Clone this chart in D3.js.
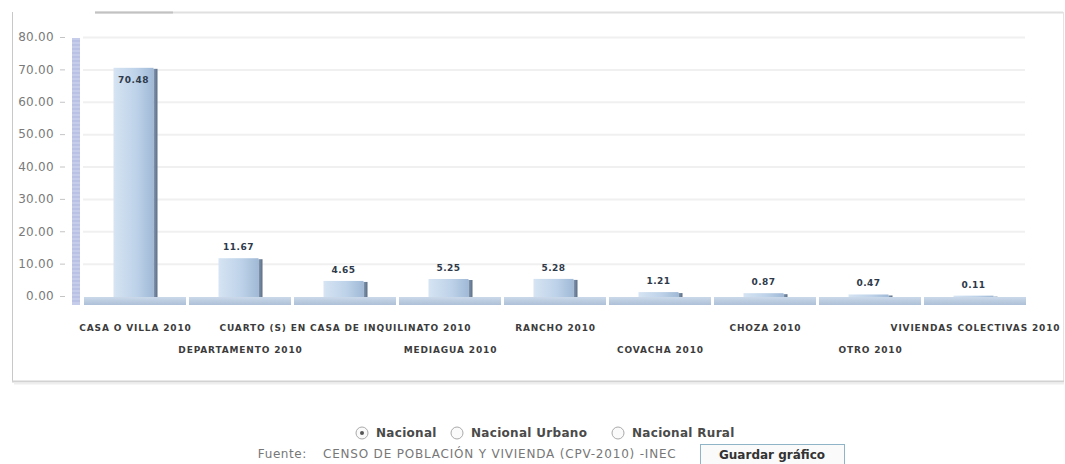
<!DOCTYPE html>
<html>
<head>
<meta charset="utf-8">
<script src="https://cdn.jsdelivr.net/npm/d3@7"></script>
<style>
  body { margin: 0; background: #fff; }
  svg { display: block; }
</style>
</head>
<body>
<div id="chart"></div>
<script>
// datos del grafico
var categorias = ["CASA O VILLA 2010", "DEPARTAMENTO 2010", "CUARTO (S) EN CASA DE INQUILINATO 2010",
  "MEDIAGUA 2010", "RANCHO 2010", "COVACHA 2010", "CHOZA 2010", "OTRO 2010", "VIVIENDAS COLECTIVAS 2010"];
var valores = [70.48, 11.67, 4.65, 5.25, 5.28, 1.21, 0.87, 0.47, 0.11];
var ticksY = [0, 10, 20, 30, 40, 50, 60, 70, 80];
var opciones = ["Nacional", "Nacional Urbano", "Nacional Rural"];
var fuente = "CENSO DE POBLACIÓN Y VIVIENDA (CPV-2010) -INEC";

var width = 1065, height = 464;
var svg = d3.select("#chart").append("svg")
  .attr("width", width).attr("height", height)
  .style("font-family", "'DejaVu Sans', Verdana, sans-serif");

var defs = svg.append("defs");
var gBar = defs.append("linearGradient").attr("id", "gBar");
gBar.append("stop").attr("offset", "0%").attr("stop-color", "#d6e4f3");
gBar.append("stop").attr("offset", "60%").attr("stop-color", "#bcd1e8");
gBar.append("stop").attr("offset", "100%").attr("stop-color", "#a0b9d6");
var gSide = defs.append("linearGradient").attr("id", "gSide");
gSide.append("stop").attr("offset", "0%").attr("stop-color", "#8299b4");
gSide.append("stop").attr("offset", "100%").attr("stop-color", "#5c6e84");
var gSlab = defs.append("linearGradient").attr("id", "gSlab")
  .attr("x1", 0).attr("y1", 0).attr("x2", 0).attr("y2", 1);
gSlab.append("stop").attr("offset", "0%").attr("stop-color", "#cbd9ea");
gSlab.append("stop").attr("offset", "100%").attr("stop-color", "#adc0d7");

// marco del panel
svg.append("line").attr("x1", 12.5).attr("x2", 12.5).attr("y1", 12).attr("y2", 381)
  .attr("stroke", "#c8c8c8");
svg.append("line").attr("x1", 95).attr("x2", 1063).attr("y1", 12.5).attr("y2", 12.5)
  .attr("stroke", "#e0e0e0").attr("stroke-width", 2);
svg.append("line").attr("x1", 95).attr("x2", 173).attr("y1", 12.5).attr("y2", 12.5)
  .attr("stroke", "#c2c2c2").attr("stroke-width", 2);
svg.append("line").attr("x1", 1063.5).attr("x2", 1063.5).attr("y1", 12).attr("y2", 381)
  .attr("stroke", "#e4e4e4");
svg.append("line").attr("x1", 12).attr("x2", 1064).attr("y1", 381.5).attr("y2", 381.5)
  .attr("stroke", "#d2d2d2").attr("stroke-width", 2);
svg.append("line").attr("x1", 14).attr("x2", 1064).attr("y1", 383.5).attr("y2", 383.5)
  .attr("stroke", "#eeeeee").attr("stroke-width", 2);

var x = d3.scaleBand().domain(categorias).range([83, 1028]);
var y = d3.scaleLinear().domain([0, 80]).range([296, 37]);

// lineas de grilla
svg.append("g").selectAll("line").data(ticksY.slice(1)).enter().append("line")
  .attr("x1", 83).attr("x2", 1025)
  .attr("y1", function(d) { return y(d) + 0.5; })
  .attr("y2", function(d) { return y(d) + 0.5; })
  .attr("stroke", "#f0f0f0").attr("stroke-width", 2);

// eje Y
var ejeY = svg.append("g").attr("transform", "translate(65,0)")
  .call(d3.axisLeft(y).tickValues(ticksY).tickFormat(d3.format(".2f")).tickSize(5).tickPadding(6));
ejeY.select(".domain").remove();
ejeY.selectAll(".tick line").attr("stroke", "#c4c4c4");
ejeY.selectAll("text").attr("fill", "#7a7a7a").style("font-size", "12px")
  .style("letter-spacing", "0.3px")
  .style("font-family", "'DejaVu Sans', Verdana, sans-serif");

// banda azul del eje (3d)
svg.append("rect").attr("x", 72).attr("y", y(80) + 1).attr("width", 8).attr("height", y(0) - y(80) + 8)
  .attr("fill", "#c6cdea");
svg.append("g").selectAll("line").data(d3.range(y(80) + 4, y(0) + 8, 4)).enter().append("line")
  .attr("x1", 72).attr("x2", 80).attr("y1", function(d) { return d; }).attr("y2", function(d) { return d; })
  .attr("stroke", "#aeb6dd").attr("stroke-width", 1);

// base de cada categoria
svg.append("g").selectAll("rect").data(categorias).enter().append("rect")
  .attr("x", function(d) { return x(d) + 1; })
  .attr("y", y(0) + 1)
  .attr("width", x.bandwidth() - 3)
  .attr("height", 8)
  .attr("fill", "url(#gSlab)");

var barW = 40, sideW = 4;
var barras = svg.append("g").selectAll("g").data(valores).enter().append("g");
barras.append("rect")
  .attr("x", function(d, i) { return x(categorias[i]) + x.bandwidth() / 2 - (barW + sideW) / 2; })
  .attr("y", function(d) { return y(d); })
  .attr("width", barW)
  .attr("height", function(d) { return y(0) - y(d) + 1; })
  .attr("fill", "url(#gBar)");
barras.append("rect")
  .attr("x", function(d, i) { return x(categorias[i]) + x.bandwidth() / 2 - (barW + sideW) / 2 + barW; })
  .attr("y", function(d) { return y(d) + 1; })
  .attr("width", sideW)
  .attr("height", function(d) { return y(0) - y(d); })
  .attr("fill", "url(#gSide)");

// etiquetas de valores
barras.append("text")
  .attr("x", function(d, i) { return x(categorias[i]) + x.bandwidth() / 2 - 2; })
  .attr("y", function(d) { return d > 60 ? y(d) + 15 : y(d) - 8; })
  .attr("text-anchor", "middle")
  .attr("fill", "#2e3a4a")
  .style("font-size", "9px").style("font-weight", "bold").style("letter-spacing", "0.5px")
  .text(function(d) { return d3.format(".2f")(d); });

// etiquetas de categorias (alternadas)
svg.append("g").selectAll("text").data(categorias).enter().append("text")
  .attr("x", function(d) { return x(d) + x.bandwidth() / 2; })
  .attr("y", function(d, i) { return i % 2 == 0 ? 331 : 353; })
  .attr("text-anchor", "middle")
  .attr("fill", "#3c3c3c")
  .style("font-size", "9px").style("font-weight", "bold").style("letter-spacing", "0.85px")
  .text(function(d) { return d; });

// opciones de radio
var radX = [362, 457, 618];
var radios = svg.append("g").selectAll("g").data(opciones).enter().append("g")
  .attr("transform", function(d, i) { return "translate(" + radX[i] + ",433)"; });
radios.append("circle").attr("r", 6).attr("fill", "#fafafa").attr("stroke", "#aaa");
radios.filter(function(d, i) { return i == 0; }).append("circle").attr("r", 2).attr("fill", "#555");
radios.append("text").attr("x", 14).attr("y", 4)
  .attr("fill", "#4a4a4a").style("font-size", "12px").style("font-weight", "bold")
  .style("letter-spacing", "0.3px")
  .text(function(d) { return d; });

// fuente y boton
svg.append("text").attr("x", 307).attr("y", 458).attr("text-anchor", "end")
  .attr("fill", "#777").style("font-size", "12px").style("letter-spacing", "0.6px").text("Fuente:");
svg.append("text").attr("x", 323).attr("y", 458)
  .attr("fill", "#777").style("font-size", "12px").style("letter-spacing", "0.8px").text(fuente);
svg.append("rect").attr("x", 700.5).attr("y", 444.5).attr("width", 144).attr("height", 21)
  .attr("fill", "#fafafa").attr("stroke", "#8fb4c8");
svg.append("text").attr("x", 772).attr("y", 459).attr("text-anchor", "middle")
  .attr("fill", "#333").style("font-size", "12px").style("font-weight", "bold").text("Guardar gráfico");
</script>
</body>
</html>
